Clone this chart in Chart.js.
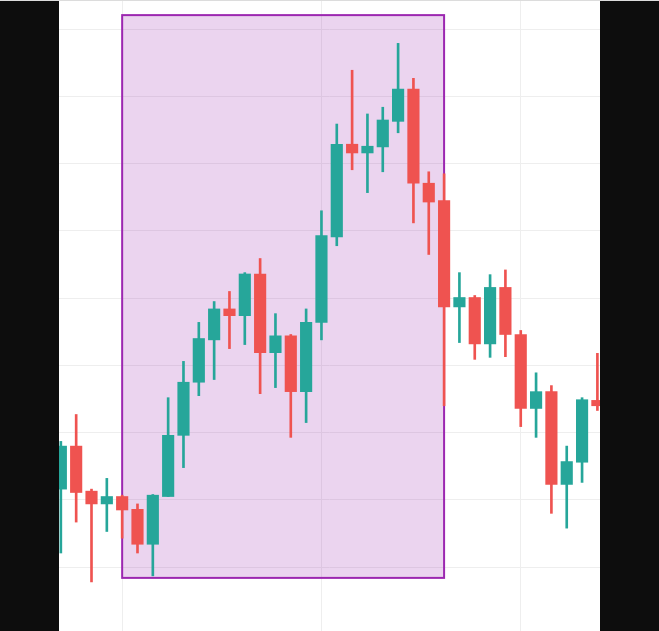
<!DOCTYPE html>
<html lang="en">
  <head>
    <meta charset="UTF-8" />
    <title>Candles</title>
    <style>
      html, body { margin: 0; padding: 0; background: #0d0d0d; }
      #topline { position: absolute; left: 0; top: 0; width: 659px; height: 1px; background: #dcdcdc; }
      #wrap { position: absolute; left: 59px; top: 1px; width: 541px; height: 630px; background: #fff; }
    </style>
  </head>
  <body>
    <div id="topline"></div>
    <div id="wrap"><canvas id="myChart" width="541" height="630"></canvas></div>

    <script src="https://cdn.jsdelivr.net/npm/chart.js@4.4.0/dist/chart.umd.min.js"></script>
    <script>
      // candle values, one entry per bar
      const opens  = [111.6, 118.0, 111.3, 109.4, 110.5, 108.6, 103.4, 110.5, 119.6, 127.5, 133.8, 138.4, 137.4, 143.6, 131.9, 134.4, 126.1, 136.4, 149.1, 162.9, 161.6, 162.5, 166.3, 171.1, 157.1, 154.5, 138.7, 140.1, 133.2, 141.6, 134.6, 123.6, 126.1, 112.3, 115.6, 124.8];
      const highs  = [118.7, 122.7, 111.6, 113.2, 110.7, 109.4, 110.8, 125.2, 130.6, 136.4, 139.5, 141.0, 143.8, 145.9, 137.7, 134.6, 138.4, 153.0, 165.9, 173.9, 167.4, 168.4, 177.9, 172.7, 158.8, 158.5, 143.8, 140.4, 143.5, 144.2, 135.2, 128.9, 127.0, 118.0, 125.2, 131.8];
      const lows   = [102.1, 106.7, 97.8, 105.3, 104.3, 102.1, 98.7, 110.5, 114.8, 125.5, 127.9, 132.5, 133.1, 125.8, 126.7, 119.3, 121.5, 133.8, 147.8, 159.1, 155.7, 158.8, 164.6, 151.2, 146.5, 124.0, 133.4, 130.9, 131.2, 131.3, 120.9, 119.3, 108.0, 105.8, 112.6, 123.3];
      const closes = [118.0, 111.1, 109.4, 110.5, 108.5, 103.4, 110.7, 119.6, 127.5, 134.0, 138.4, 137.4, 143.6, 131.9, 134.4, 126.1, 136.4, 149.3, 162.9, 161.6, 162.6, 166.5, 171.1, 157.1, 154.3, 138.7, 140.1, 133.2, 141.6, 134.6, 123.6, 126.1, 112.3, 115.7, 124.9, 124.0];

      // highlighted zone (bar index range and price range)
      const zoneStart = 4;
      const zoneEnd = 25;
      const zoneTop = 182.1;
      const zoneBottom = 98.4;

      const gridX = [4, 17, 30];
      const gridY = [100, 110, 120, 130, 140, 150, 160, 170, 180];

      const UP = "#26a69a";
      const DOWN = "#ef5350";

      const colors = opens.map((o, i) => (closes[i] >= o ? UP : DOWN));
      const bodies = opens.map((o, i) => ({ x: i, y: [o, closes[i]] }));
      const wicks = lows.map((l, i) => ({ x: i, y: [l, highs[i]] }));

      const zonePlugin = {
        id: "zone",
        beforeDatasetsDraw(chart) {
          const { ctx, scales } = chart;
          const x1 = scales.x.getPixelForValue(zoneStart);
          const x2 = scales.x.getPixelForValue(zoneEnd);
          const y1 = scales.y.getPixelForValue(zoneTop);
          const y2 = scales.y.getPixelForValue(zoneBottom);
          ctx.save();
          ctx.fillStyle = "rgba(156, 39, 176, 0.2)";
          ctx.fillRect(x1, y1, x2 - x1, y2 - y1);
          ctx.strokeStyle = "#9c27b0";
          ctx.lineWidth = 2;
          ctx.strokeRect(x1, y1, x2 - x1, y2 - y1);
          ctx.restore();
        },
      };

      const ctx = document.getElementById("myChart").getContext("2d");
      const myChart = new Chart(ctx, {
        type: "bar",
        data: {
          datasets: [
            {
              data: bodies,
              backgroundColor: colors,
              borderWidth: 0,
              barThickness: 11.5,
              minBarLength: 1,
              grouped: false,
              order: 0,
            },
            {
              data: wicks,
              backgroundColor: colors,
              borderWidth: 0,
              barThickness: 2,
              grouped: false,
              order: 1,
            },
          ],
        },
        options: {
          responsive: false,
          animation: false,
          devicePixelRatio: 1,
          layout: { padding: 0 },
          plugins: { legend: { display: false }, tooltip: { enabled: false } },
          scales: {
            x: {
              type: "linear",
              min: -0.12,
              max: 35.17,
              offset: false,
              grid: { color: "#eeeeee", drawTicks: false, offset: false },
              border: { display: false },
              ticks: { display: false },
              afterBuildTicks: (axis) => {
                axis.ticks = gridX.map((v) => ({ value: v }));
              },
            },
            y: {
              min: 90.5,
              max: 184.2,
              beginAtZero: false,
              grid: { color: "#eeeeee", drawTicks: false },
              border: { display: false },
              ticks: { display: false },
              afterBuildTicks: (axis) => {
                axis.ticks = gridY.map((v) => ({ value: v }));
              },
            },
          },
        },
        plugins: [zonePlugin],
      });
    </script>
  </body>
</html>
